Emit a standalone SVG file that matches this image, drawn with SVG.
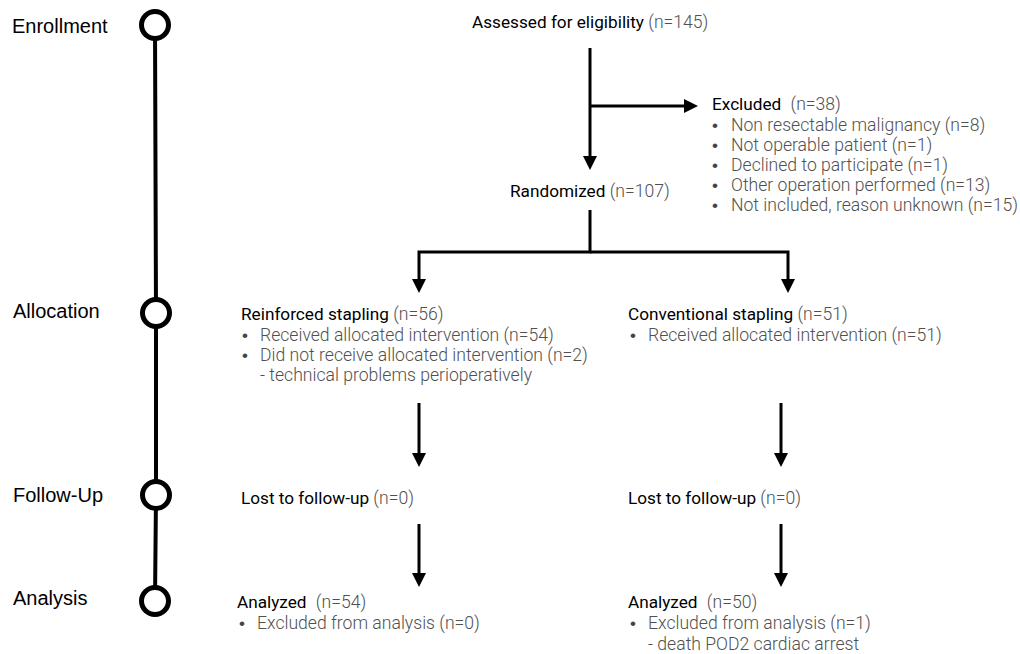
<svg xmlns="http://www.w3.org/2000/svg" width="1020" height="654" viewBox="0 0 1020 654">
<style>
.stage{font-family:"Liberation Sans",Arial,sans-serif;font-size:20px;fill:#000}
.h{font-family:Roboto,"Liberation Sans",sans-serif;font-size:17.2px;fill:#000;font-weight:400}
.g{font-family:Roboto,"Liberation Sans",sans-serif;font-size:17.6px;fill:#505050;font-weight:300}
.b{font-family:"Liberation Sans",Arial,sans-serif;font-size:17px;fill:#444}
.tl{fill:none;stroke:#000;stroke-width:4}
.ring{fill:#fff;stroke:#000;stroke-width:5}
.c{fill:none;stroke:#000;stroke-width:3}
</style>
<defs>
<marker id="ah" viewBox="0 0 14 14" refX="1" refY="7" markerWidth="14" markerHeight="14" markerUnits="userSpaceOnUse" orient="auto">
<path d="M0,0 L14,7 L0,14 z" fill="#000"/>
</marker>
</defs>
<rect width="1020" height="654" fill="#fff"/>
<g id="timeline">
<polyline class="tl" points="155,25 156,313 156,495 155,601"/>
<circle class="ring" cx="155" cy="25" r="13.5"/>
<circle class="ring" cx="156" cy="313" r="13.5"/>
<circle class="ring" cx="156" cy="495" r="13.5"/>
<circle class="ring" cx="155" cy="601" r="13.5"/>
<text class="stage" x="12" y="33">Enrollment</text>
<text class="stage" x="13" y="318">Allocation</text>
<text class="stage" x="13" y="502">Follow-Up</text>
<text class="stage" x="13" y="605">Analysis</text>
</g>
<g id="connectors">
<path class="c" d="M590,48 V157" marker-end="url(#ah)"/>
<path class="c" d="M590,106 H685" marker-end="url(#ah)"/>
<path class="c" d="M590,210 V252 H419 V280" marker-end="url(#ah)"/>
<path class="c" d="M590,252 H788 V280" marker-end="url(#ah)"/>
<path class="c" d="M419,403 V454" marker-end="url(#ah)"/>
<path class="c" d="M419,524 V574" marker-end="url(#ah)"/>
<path class="c" d="M781,403 V454" marker-end="url(#ah)"/>
<path class="c" d="M781,524 V574" marker-end="url(#ah)"/>
</g>
<g id="assessed">
<text x="472" y="28"><tspan class="h">Assessed for eligibility</tspan><tspan class="g"> (n=145)</tspan></text>
</g>
<g id="excluded">
<text x="712" y="110"><tspan class="h">Excluded</tspan><tspan class="g" dx="5"> (n=38)</tspan></text>
<text class="b" x="712" y="131">•</text><text class="g" x="731" y="131">Non resectable malignancy (n=8)</text>
<text class="b" x="712" y="151">•</text><text class="g" x="731" y="151">Not operable patient (n=1)</text>
<text class="b" x="712" y="171">•</text><text class="g" x="731" y="171">Declined to participate (n=1)</text>
<text class="b" x="712" y="191">•</text><text class="g" x="731" y="191">Other operation performed (n=13)</text>
<text class="b" x="712" y="211">•</text><text class="g" x="731" y="211">Not included, reason unknown (n=15)</text>
</g>
<g id="randomized">
<text x="510" y="197"><tspan class="h">Randomized</tspan><tspan class="g"> (n=107)</tspan></text>
</g>
<g id="reinforced">
<text x="241" y="320"><tspan class="h">Reinforced stapling</tspan><tspan class="g"> (n=56)</tspan></text>
<text class="b" x="242" y="341">•</text><text class="g" x="260" y="341">Received allocated intervention (n=54)</text>
<text class="b" x="242" y="361">•</text><text class="g" x="260" y="361">Did not receive allocated intervention (n=2)</text>
<text class="g" x="260" y="381">- technical problems perioperatively</text>
</g>
<g id="conventional">
<text x="628" y="320"><tspan class="h">Conventional stapling</tspan><tspan class="g"> (n=51)</tspan></text>
<text class="b" x="630" y="341">•</text><text class="g" x="648" y="341">Received allocated intervention (n=51)</text>
</g>
<g id="lost-left">
<text x="241" y="504"><tspan class="h">Lost to follow-up</tspan><tspan class="g"> (n=0)</tspan></text>
</g>
<g id="lost-right">
<text x="628" y="504"><tspan class="h">Lost to follow-up</tspan><tspan class="g"> (n=0)</tspan></text>
</g>
<g id="analyzed-left">
<text x="237" y="608"><tspan class="h">Analyzed</tspan><tspan class="g" dx="5"> (n=54)</tspan></text>
<text class="b" x="239" y="629">•</text><text class="g" x="257" y="629">Excluded from analysis (n=0)</text>
</g>
<g id="analyzed-right">
<text x="628" y="608"><tspan class="h">Analyzed</tspan><tspan class="g" dx="5"> (n=50)</tspan></text>
<text class="b" x="630" y="629">•</text><text class="g" x="648" y="629">Excluded from analysis (n=1)</text>
<text class="g" x="648" y="650">- death POD2 cardiac arrest</text>
</g>
</svg>
